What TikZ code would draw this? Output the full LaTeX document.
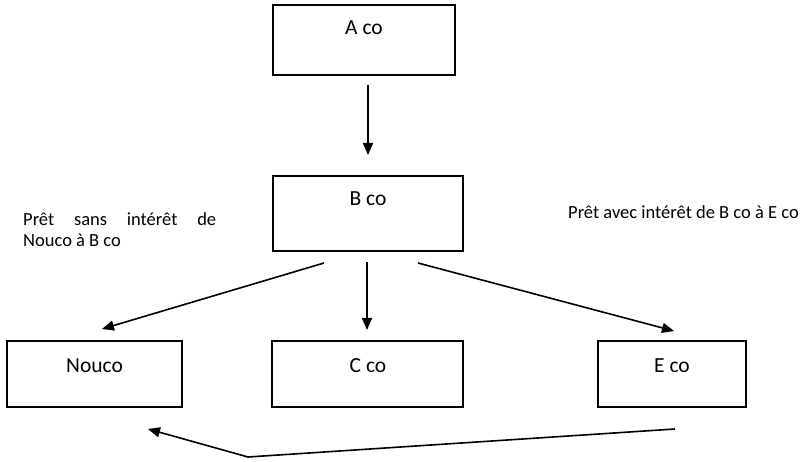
\documentclass[tikz,border=0pt]{standalone}
\usepackage{fontspec}
\setmainfont{Carlito}
\usetikzlibrary{arrows.meta}
\begin{document}
\begin{tikzpicture}[x=1pt,y=-1pt,
  company/.style={draw,line width=1.6pt,minimum width=#1,minimum height=66pt,inner sep=0pt},
  company/.default=190pt,
  boxlabel/.style={font=\fontsize{21.5}{24}\selectfont,anchor=base,inner sep=0pt},
  note/.style={font=\fontsize{18.5}{21}\selectfont,inner sep=0pt},
  link/.style={line width=1.6pt,-{Triangle[length=12pt,width=10pt]}}]
\useasboundingbox (0,0) rectangle (806,462);
% companies
\node[company=182pt,minimum height=70pt] (A) at (364,40) {};
\node[boxlabel] at (364,35) {A co};
\node[company,minimum height=75pt] (B) at (368,213.5) {};
\node[boxlabel] at (368,206) {B co};
\node[company=175pt] (N) at (94.5,374) {};
\node[boxlabel] at (94.5,372) {Nouco};
\node[company=191pt] (C) at (367.5,374) {};
\node[boxlabel] at (368,372) {C co};
\node[company=148pt] (E) at (672,374) {};
\node[boxlabel] at (672,372) {E co};
% loan notes
\node[note,text width=193pt,align=justify,anchor=base west] (L) at (23,226)
  {Prêt\hfill sans\hfill intérêt\hfill de\\Nouco à B co};
\node[note,anchor=base west] (R) at (568,219) {Prêt avec intérêt de B co à E co};
% flows
\coordinate (a1) at (368,85);
\coordinate (b1) at (368,155);
\draw[link] (a1) -- (b1);
\coordinate (bl) at (324,263);
\coordinate (nl) at (102,329);
\draw[link] (bl) -- (nl);
\coordinate (bm) at (367,262);
\coordinate (cm) at (367,330);
\draw[link] (bm) -- (cm);
\coordinate (br) at (418,263);
\coordinate (er) at (674,331);
\draw[link] (br) -- (er);
\coordinate (e0) at (675,429);
\coordinate (k) at (248,457);
\coordinate (n0) at (148,429);
\draw[link] (e0) -- (k) -- (n0);
\end{tikzpicture}
\end{document}
